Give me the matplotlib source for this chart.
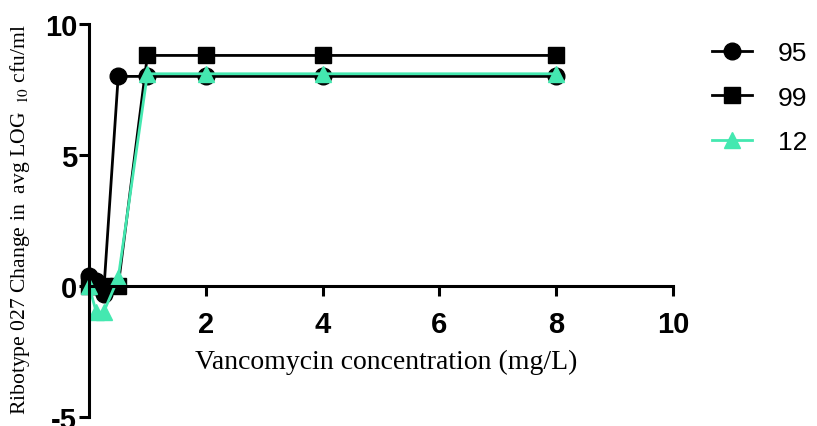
import matplotlib.pyplot as plt

plt.rcParams['mathtext.fontset'] = 'stix'
plt.rcParams['axes.unicode_minus'] = False

# mean change in log10 cfu/ml per ribotype 027 isolate
conc = [0, 0.125, 0.25, 0.5, 1, 2, 4, 8]
iso_95 = [0.4, 0.2, -0.3, 8.0, 8.0, 8.0, 8.0, 8.0]
iso_99 = [0.0, 0.0, 0.0, 0.0, 8.8, 8.8, 8.8, 8.8]
iso_12 = [0.0, -1.0, -1.0, 0.3, 8.1, 8.1, 8.1, 8.1]
labels = ['95', '99', '12']

teal = '#44E8B0'

fig = plt.figure(figsize=(8.17, 4.27), dpi=100)
ax = fig.add_axes([89 / 817, 9 / 427, 584 / 817, 393 / 427])

ax.plot(conc, iso_95, color='black', lw=2, marker='o', ms=12, label=labels[0], clip_on=False)
ax.plot(conc, iso_99, color='black', lw=2, marker='s', ms=11, label=labels[1], clip_on=False)
ax.plot(conc, iso_12, color=teal, lw=2, marker='^', ms=12, label=labels[2], clip_on=False)

ax.set_xlim(0, 10)
ax.set_ylim(-5, 10)
ax.set_xticks([2, 4, 6, 8, 10])
ax.set_yticks([-5, 0, 5, 10])

for side in ['top', 'right']:
    ax.spines[side].set_visible(False)
ax.spines['bottom'].set_position(('data', 0))
for side in ['left', 'bottom']:
    ax.spines[side].set_linewidth(2.2)
ax.tick_params(width=2.2, length=7, direction='out')
ax.tick_params(axis='x', pad=10)
ax.tick_params(axis='y', pad=1.5)
for lab in ax.get_xticklabels() + ax.get_yticklabels():
    lab.set_fontfamily('Liberation Sans')
    lab.set_fontweight('bold')
    lab.set_fontsize(21)

fig.text(386 / 817, 1 - 362 / 427, 'Vancomycin concentration (mg/L)',
         family='Liberation Serif', fontsize=20, ha='center', va='center')
fig.text(20 / 817, 1 - 220 / 427, r'Ribotype 027 Change in  avg LOG $\,_{10}$ cfu/ml',
         family='Liberation Serif', fontsize=15.6, rotation=90, ha='center', va='center')

leg = fig.legend(loc='upper left', bbox_to_anchor=(712 / 817, 1 - 42 / 427),
                 frameon=False, borderpad=0, borderaxespad=0,
                 prop={'family': 'Liberation Sans', 'size': 19},
                 handlelength=1.5, handletextpad=1.0, labelspacing=0.78)

fig.savefig('out.png', dpi=100)
